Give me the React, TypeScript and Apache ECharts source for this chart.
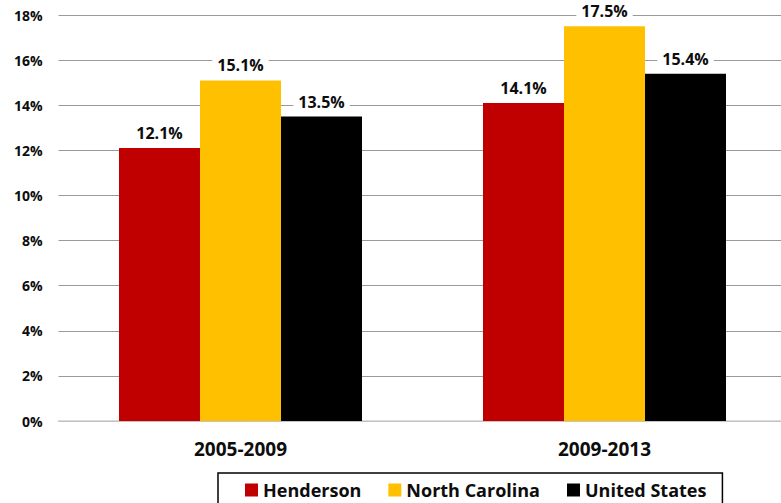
import React, { useEffect, useRef } from "react";
import * as echarts from "echarts";

const categories = ["2005-2009", "2009-2013"];
const henderson = [12.1, 14.1];
const northCarolina = [15.1, 17.5];
const unitedStates = [13.5, 15.4];
const seriesNames = ["Henderson", "North Carolina", "United States"];
const colors = ["#C00000", "#FFC000", "#000000"];

const FONT = "'Open Sans', 'Noto Sans', sans-serif";
const TEXT = "#0d0d0d";

export default function App() {
  const ref = useRef<HTMLDivElement>(null);
  useEffect(() => {
    if (!ref.current) return;
    const chart = echarts.init(ref.current, null, { renderer: "svg" });
    const values = [henderson, northCarolina, unitedStates];
    chart.setOption({
      animation: false,
      textStyle: { fontFamily: FONT },
      grid: { left: 58.5, right: 13.5, top: 15, bottom: 82, containLabel: false },
      legend: {
        data: seriesNames,
        top: 473,
        left: 218,
        icon: "rect",
        itemWidth: 13,
        itemHeight: 13,
        itemGap: 27,
        borderColor: "#000",
        borderWidth: 1.5,
        padding: [8, 16, 20, 27],
        textStyle: { fontSize: 18, fontWeight: "bold", color: TEXT, fontFamily: FONT },
      },
      xAxis: {
        type: "category",
        data: categories,
        axisTick: { show: false },
        axisLine: { show: true, lineStyle: { color: "#d0d0d0", width: 1.5 } },
        axisLabel: { fontSize: 19, fontWeight: "bold", color: TEXT, margin: 18 },
      },
      yAxis: {
        type: "value",
        min: 0,
        max: 18,
        interval: 2,
        axisLine: { show: false },
        axisTick: { show: false },
        splitLine: { lineStyle: { color: "#9a9a9a", width: 1 } },
        axisLabel: {
          formatter: "{value}%",
          fontSize: 14,
          fontWeight: "bold",
          color: TEXT,
          margin: 16,
        },
      },
      series: seriesNames.map((name, i) => ({
        name,
        type: "bar",
        data: values[i],
        barWidth: 81,
        barGap: "0%",
        itemStyle: { color: colors[i] },
        label: {
          show: true,
          position: "top",
          distance: 6,
          formatter: (p: any) => p.value.toFixed(1) + "%",
          fontSize: 16,
          fontWeight: "bold",
          color: TEXT,
          backgroundColor: "#fff",
          padding: [1, 5],
        },
      })),
    });
    return () => chart.dispose();
  }, []);
  return (
    <div
      style={{
        position: "fixed",
        left: 0,
        top: 0,
        width: 781,
        height: 503,
        overflow: "hidden",
        background: "#fff",
      }}
    >
      <div ref={ref} style={{ width: 800, height: 503 }} />
    </div>
  );
}
